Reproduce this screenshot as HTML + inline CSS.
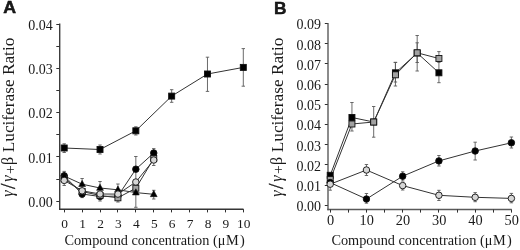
<!DOCTYPE html>
<html><head><meta charset="utf-8"><style>
html,body{margin:0;padding:0;background:#fff;width:520px;height:250px;overflow:hidden}
svg{display:block;will-change:transform}
text{fill:#1a1a1a}
</style></head><body>
<svg width="520" height="250" viewBox="0 0 520 250" font-family="Liberation Serif">
<line x1="59.7" y1="23.6" x2="59.7" y2="209.85" stroke="#3c3c3c" stroke-width="1.4"/>
<line x1="59" y1="209.25" x2="243.5" y2="209.25" stroke="#353535" stroke-width="1.4"/>
<line x1="56.3" y1="201.5" x2="59.4" y2="201.5" stroke="#303030" stroke-width="1.0"/>
<line x1="56.3" y1="179.5" x2="59.4" y2="179.5" stroke="#303030" stroke-width="1.0"/>
<line x1="56.3" y1="156.5" x2="59.4" y2="156.5" stroke="#303030" stroke-width="1.0"/>
<line x1="56.3" y1="134.5" x2="59.4" y2="134.5" stroke="#303030" stroke-width="1.0"/>
<line x1="56.3" y1="112.5" x2="59.4" y2="112.5" stroke="#303030" stroke-width="1.0"/>
<line x1="56.3" y1="90.5" x2="59.4" y2="90.5" stroke="#303030" stroke-width="1.0"/>
<line x1="56.3" y1="68.5" x2="59.4" y2="68.5" stroke="#303030" stroke-width="1.0"/>
<line x1="56.3" y1="46.5" x2="59.4" y2="46.5" stroke="#303030" stroke-width="1.0"/>
<line x1="56.3" y1="24.5" x2="59.4" y2="24.5" stroke="#303030" stroke-width="1.0"/>
<text x="52.8" y="206.9" font-size="14" text-anchor="end" font-family="Liberation Serif" >0.00</text>
<text x="52.8" y="162.65" font-size="14" text-anchor="end" font-family="Liberation Serif" >0.01</text>
<text x="52.8" y="118.4" font-size="14" text-anchor="end" font-family="Liberation Serif" >0.02</text>
<text x="52.8" y="74.15" font-size="14" text-anchor="end" font-family="Liberation Serif" >0.03</text>
<text x="52.8" y="29.9" font-size="14" text-anchor="end" font-family="Liberation Serif" >0.04</text>
<line x1="64.5" y1="209.2" x2="64.5" y2="212.4" stroke="#303030" stroke-width="1.0"/>
<text x="64.7" y="228.3" font-size="13.4" text-anchor="middle" font-family="Liberation Serif" >0</text>
<line x1="82.5" y1="209.2" x2="82.5" y2="212.4" stroke="#303030" stroke-width="1.0"/>
<text x="82.61" y="228.3" font-size="13.4" text-anchor="middle" font-family="Liberation Serif" >1</text>
<line x1="100.5" y1="209.2" x2="100.5" y2="212.4" stroke="#303030" stroke-width="1.0"/>
<text x="100.52" y="228.3" font-size="13.4" text-anchor="middle" font-family="Liberation Serif" >2</text>
<line x1="117.5" y1="209.2" x2="117.5" y2="212.4" stroke="#303030" stroke-width="1.0"/>
<text x="118.43" y="228.3" font-size="13.4" text-anchor="middle" font-family="Liberation Serif" >3</text>
<line x1="135.5" y1="209.2" x2="135.5" y2="212.4" stroke="#303030" stroke-width="1.0"/>
<text x="136.34" y="228.3" font-size="13.4" text-anchor="middle" font-family="Liberation Serif" >4</text>
<line x1="153.5" y1="209.2" x2="153.5" y2="212.4" stroke="#303030" stroke-width="1.0"/>
<text x="154.25" y="228.3" font-size="13.4" text-anchor="middle" font-family="Liberation Serif" >5</text>
<line x1="171.5" y1="209.2" x2="171.5" y2="212.4" stroke="#303030" stroke-width="1.0"/>
<text x="172.16" y="228.3" font-size="13.4" text-anchor="middle" font-family="Liberation Serif" >6</text>
<line x1="189.5" y1="209.2" x2="189.5" y2="212.4" stroke="#303030" stroke-width="1.0"/>
<text x="190.07" y="228.3" font-size="13.4" text-anchor="middle" font-family="Liberation Serif" >7</text>
<line x1="207.5" y1="209.2" x2="207.5" y2="212.4" stroke="#303030" stroke-width="1.0"/>
<text x="207.98" y="228.3" font-size="13.4" text-anchor="middle" font-family="Liberation Serif" >8</text>
<line x1="225.5" y1="209.2" x2="225.5" y2="212.4" stroke="#303030" stroke-width="1.0"/>
<text x="225.89" y="228.3" font-size="13.4" text-anchor="middle" font-family="Liberation Serif" >9</text>
<line x1="243.5" y1="209.2" x2="243.5" y2="212.4" stroke="#303030" stroke-width="1.0"/>
<text x="243.8" y="228.3" font-size="13.4" text-anchor="middle" font-family="Liberation Serif" >10</text>
<text x="64.4" y="245" font-size="14.3" text-anchor="start" font-family="Liberation Serif" >Compound concentration (&#956;<tspan dx="0.7">M</tspan><tspan dx="1.2">)</tspan></text>
<text x="0" y="0" font-size="17" text-anchor="start" font-family="Liberation Serif" transform="translate(14.2,196.5) rotate(-90)"><tspan x="-0.3" y="-1" font-style="italic" font-size="16">&#947;</tspan><tspan x="7.4" y="0.6" font-size="20" stroke="#1a1a1a" stroke-width="0.35">/</tspan><tspan x="14.8" y="-1" font-style="italic" font-size="16">&#947;</tspan><tspan x="22.6" y="0.3" font-size="15.5">+</tspan><tspan x="31.4" y="-1.2" font-size="16">&#946;</tspan><tspan x="44.2" y="0" font-size="17.3">Luciferase Ratio</tspan></text>
<text x="0" y="0" font-size="16.6" text-anchor="start" font-family="Liberation Sans" font-weight="bold" stroke="#000" stroke-width="0.45" transform="translate(3.2,13.4) scale(1.07,1)">A</text>
<line x1="328" y1="23" x2="328" y2="210.2" stroke="#5a5a5a" stroke-width="1.4"/>
<line x1="327.3" y1="209.5" x2="511.7" y2="209.5" stroke="#5a5a5a" stroke-width="1.4"/>
<line x1="324.8" y1="205.5" x2="327.8" y2="205.5" stroke="#303030" stroke-width="1.0"/>
<text x="321" y="211.2" font-size="14" text-anchor="end" font-family="Liberation Serif" >0.00</text>
<line x1="324.8" y1="185.5" x2="327.8" y2="185.5" stroke="#303030" stroke-width="1.0"/>
<text x="321" y="191.01" font-size="14" text-anchor="end" font-family="Liberation Serif" >0.01</text>
<line x1="324.8" y1="164.5" x2="327.8" y2="164.5" stroke="#303030" stroke-width="1.0"/>
<text x="321" y="170.82" font-size="14" text-anchor="end" font-family="Liberation Serif" >0.02</text>
<line x1="324.8" y1="144.5" x2="327.8" y2="144.5" stroke="#303030" stroke-width="1.0"/>
<text x="321" y="150.63" font-size="14" text-anchor="end" font-family="Liberation Serif" >0.03</text>
<line x1="324.8" y1="124.5" x2="327.8" y2="124.5" stroke="#303030" stroke-width="1.0"/>
<text x="321" y="130.44" font-size="14" text-anchor="end" font-family="Liberation Serif" >0.04</text>
<line x1="324.8" y1="104.5" x2="327.8" y2="104.5" stroke="#303030" stroke-width="1.0"/>
<text x="321" y="110.25" font-size="14" text-anchor="end" font-family="Liberation Serif" >0.05</text>
<line x1="324.8" y1="84.5" x2="327.8" y2="84.5" stroke="#303030" stroke-width="1.0"/>
<text x="321" y="90.06" font-size="14" text-anchor="end" font-family="Liberation Serif" >0.06</text>
<line x1="324.8" y1="63.5" x2="327.8" y2="63.5" stroke="#303030" stroke-width="1.0"/>
<text x="321" y="69.87" font-size="14" text-anchor="end" font-family="Liberation Serif" >0.07</text>
<line x1="324.8" y1="43.5" x2="327.8" y2="43.5" stroke="#303030" stroke-width="1.0"/>
<text x="321" y="49.68" font-size="14" text-anchor="end" font-family="Liberation Serif" >0.08</text>
<line x1="324.8" y1="23.5" x2="327.8" y2="23.5" stroke="#303030" stroke-width="1.0"/>
<text x="321" y="29.49" font-size="14" text-anchor="end" font-family="Liberation Serif" >0.09</text>
<line x1="330.5" y1="209.5" x2="330.5" y2="212.6" stroke="#303030" stroke-width="1.0"/>
<text x="330.5" y="225.1" font-size="14.3" text-anchor="middle" font-family="Liberation Serif" >0</text>
<line x1="348.5" y1="209.5" x2="348.5" y2="212.6" stroke="#303030" stroke-width="1.0"/>
<line x1="366.5" y1="209.5" x2="366.5" y2="212.6" stroke="#303030" stroke-width="1.0"/>
<text x="366.74" y="225.1" font-size="14.3" text-anchor="middle" font-family="Liberation Serif" >10</text>
<line x1="384.5" y1="209.5" x2="384.5" y2="212.6" stroke="#303030" stroke-width="1.0"/>
<line x1="402.5" y1="209.5" x2="402.5" y2="212.6" stroke="#303030" stroke-width="1.0"/>
<text x="402.98" y="225.1" font-size="14.3" text-anchor="middle" font-family="Liberation Serif" >20</text>
<line x1="420.5" y1="209.5" x2="420.5" y2="212.6" stroke="#303030" stroke-width="1.0"/>
<line x1="438.5" y1="209.5" x2="438.5" y2="212.6" stroke="#303030" stroke-width="1.0"/>
<text x="439.22" y="225.1" font-size="14.3" text-anchor="middle" font-family="Liberation Serif" >30</text>
<line x1="457.5" y1="209.5" x2="457.5" y2="212.6" stroke="#303030" stroke-width="1.0"/>
<line x1="475.5" y1="209.5" x2="475.5" y2="212.6" stroke="#303030" stroke-width="1.0"/>
<text x="475.46" y="225.1" font-size="14.3" text-anchor="middle" font-family="Liberation Serif" >40</text>
<line x1="493.5" y1="209.5" x2="493.5" y2="212.6" stroke="#303030" stroke-width="1.0"/>
<line x1="511.5" y1="209.5" x2="511.5" y2="212.6" stroke="#303030" stroke-width="1.0"/>
<text x="511.7" y="225.1" font-size="14.3" text-anchor="middle" font-family="Liberation Serif" >50</text>
<text x="331.4" y="245.4" font-size="14.3" text-anchor="start" font-family="Liberation Serif" >Compound concentration (&#956;<tspan dx="0.7">M</tspan><tspan dx="1.2">)</tspan></text>
<text x="0" y="0" font-size="17" text-anchor="start" font-family="Liberation Serif" transform="translate(282.8,196.5) rotate(-90)"><tspan x="-0.3" y="-1" font-style="italic" font-size="16">&#947;</tspan><tspan x="7.4" y="0.6" font-size="20" stroke="#1a1a1a" stroke-width="0.35">/</tspan><tspan x="14.8" y="-1" font-style="italic" font-size="16">&#947;</tspan><tspan x="22.6" y="0.3" font-size="15.5">+</tspan><tspan x="31.4" y="-1.2" font-size="16">&#946;</tspan><tspan x="44.2" y="0" font-size="17.3">Luciferase Ratio</tspan></text>
<text x="0" y="0" font-size="16.8" text-anchor="start" font-family="Liberation Sans" font-weight="bold" stroke="#000" stroke-width="0.45" transform="translate(273.9,14.3) scale(1.03,1)">B</text>
<line x1="64.2" y1="143.8" x2="64.2" y2="152.5" stroke="#5a5a5a" stroke-width="0.9"/>
<line x1="62.5" y1="143.8" x2="65.9" y2="143.8" stroke="#5a5a5a" stroke-width="0.9"/>
<line x1="62.5" y1="152.5" x2="65.9" y2="152.5" stroke="#5a5a5a" stroke-width="0.9"/>
<line x1="100.02" y1="145" x2="100.02" y2="154" stroke="#5a5a5a" stroke-width="0.9"/>
<line x1="98.32" y1="145" x2="101.72" y2="145" stroke="#5a5a5a" stroke-width="0.9"/>
<line x1="98.32" y1="154" x2="101.72" y2="154" stroke="#5a5a5a" stroke-width="0.9"/>
<line x1="135.84" y1="126.8" x2="135.84" y2="135" stroke="#5a5a5a" stroke-width="0.9"/>
<line x1="134.14" y1="126.8" x2="137.54" y2="126.8" stroke="#5a5a5a" stroke-width="0.9"/>
<line x1="134.14" y1="135" x2="137.54" y2="135" stroke="#5a5a5a" stroke-width="0.9"/>
<line x1="171.66" y1="89.7" x2="171.66" y2="102.3" stroke="#5a5a5a" stroke-width="0.9"/>
<line x1="169.96" y1="89.7" x2="173.36" y2="89.7" stroke="#5a5a5a" stroke-width="0.9"/>
<line x1="169.96" y1="102.3" x2="173.36" y2="102.3" stroke="#5a5a5a" stroke-width="0.9"/>
<line x1="207.48" y1="57.2" x2="207.48" y2="91.4" stroke="#5a5a5a" stroke-width="0.9"/>
<line x1="205.78" y1="57.2" x2="209.18" y2="57.2" stroke="#5a5a5a" stroke-width="0.9"/>
<line x1="205.78" y1="91.4" x2="209.18" y2="91.4" stroke="#5a5a5a" stroke-width="0.9"/>
<line x1="243.3" y1="48.6" x2="243.3" y2="86.2" stroke="#5a5a5a" stroke-width="0.9"/>
<line x1="241.6" y1="48.6" x2="245" y2="48.6" stroke="#5a5a5a" stroke-width="0.9"/>
<line x1="241.6" y1="86.2" x2="245" y2="86.2" stroke="#5a5a5a" stroke-width="0.9"/>
<line x1="64.2" y1="171.4" x2="64.2" y2="185.5" stroke="#5a5a5a" stroke-width="0.9"/>
<line x1="62.5" y1="171.4" x2="65.9" y2="171.4" stroke="#5a5a5a" stroke-width="0.9"/>
<line x1="62.5" y1="185.5" x2="65.9" y2="185.5" stroke="#5a5a5a" stroke-width="0.9"/>
<line x1="82.11" y1="178.5" x2="82.11" y2="197.6" stroke="#5a5a5a" stroke-width="0.9"/>
<line x1="80.41" y1="178.5" x2="83.81" y2="178.5" stroke="#5a5a5a" stroke-width="0.9"/>
<line x1="80.41" y1="197.6" x2="83.81" y2="197.6" stroke="#5a5a5a" stroke-width="0.9"/>
<line x1="100.02" y1="181.5" x2="100.02" y2="201" stroke="#5a5a5a" stroke-width="0.9"/>
<line x1="98.32" y1="181.5" x2="101.72" y2="181.5" stroke="#5a5a5a" stroke-width="0.9"/>
<line x1="98.32" y1="201" x2="101.72" y2="201" stroke="#5a5a5a" stroke-width="0.9"/>
<line x1="117.93" y1="184" x2="117.93" y2="202" stroke="#5a5a5a" stroke-width="0.9"/>
<line x1="116.23" y1="184" x2="119.63" y2="184" stroke="#5a5a5a" stroke-width="0.9"/>
<line x1="116.23" y1="202" x2="119.63" y2="202" stroke="#5a5a5a" stroke-width="0.9"/>
<line x1="135.84" y1="156.5" x2="135.84" y2="207.3" stroke="#5a5a5a" stroke-width="0.9"/>
<line x1="134.14" y1="156.5" x2="137.54" y2="156.5" stroke="#5a5a5a" stroke-width="0.9"/>
<line x1="134.14" y1="207.3" x2="137.54" y2="207.3" stroke="#5a5a5a" stroke-width="0.9"/>
<line x1="153.75" y1="148.6" x2="153.75" y2="165.5" stroke="#5a5a5a" stroke-width="0.9"/>
<line x1="152.05" y1="148.6" x2="155.45" y2="148.6" stroke="#5a5a5a" stroke-width="0.9"/>
<line x1="152.05" y1="165.5" x2="155.45" y2="165.5" stroke="#5a5a5a" stroke-width="0.9"/>
<line x1="153.75" y1="190.3" x2="153.75" y2="199" stroke="#5a5a5a" stroke-width="0.9"/>
<line x1="152.05" y1="190.3" x2="155.45" y2="190.3" stroke="#5a5a5a" stroke-width="0.9"/>
<line x1="152.05" y1="199" x2="155.45" y2="199" stroke="#5a5a5a" stroke-width="0.9"/>
<polyline points="64.2,176 82.11,184.2 100.02,188 117.93,189.8 135.84,192.6 153.75,194.3" fill="none" stroke="#333" stroke-width="1.0"/>
<polyline points="64.2,175.8 82.11,194 100.02,196.5 117.93,196 135.84,169.2 153.75,153" fill="none" stroke="#333" stroke-width="1.0"/>
<polyline points="64.2,178.5 82.11,191.5 100.02,195.5 117.93,197.8 135.84,188.2 153.75,158.5" fill="none" stroke="#333" stroke-width="1.0"/>
<polyline points="64.2,180.4 82.11,190.8 100.02,194 117.93,194.1 135.84,182 153.75,160" fill="none" stroke="#333" stroke-width="1.0"/>
<polyline points="64.2,148 100.02,149.5 135.84,130.8 171.66,96.1 207.48,74 243.3,67.4" fill="none" stroke="#333" stroke-width="1.0"/>
<rect x="61.2" y="145" width="6" height="6" fill="#000" stroke="#111" stroke-width="0.9"/>
<rect x="97.02" y="146.5" width="6" height="6" fill="#000" stroke="#111" stroke-width="0.9"/>
<rect x="132.84" y="127.8" width="6" height="6" fill="#000" stroke="#111" stroke-width="0.9"/>
<rect x="168.66" y="93.1" width="6" height="6" fill="#000" stroke="#111" stroke-width="0.9"/>
<rect x="204.48" y="71" width="6" height="6" fill="#000" stroke="#111" stroke-width="0.9"/>
<rect x="240.3" y="64.4" width="6" height="6" fill="#000" stroke="#111" stroke-width="0.9"/>
<circle cx="64.2" cy="175.8" r="3.25" fill="#000" stroke="#111" stroke-width="0.9"/>
<circle cx="82.11" cy="194" r="3.25" fill="#000" stroke="#111" stroke-width="0.9"/>
<circle cx="100.02" cy="196.5" r="3.25" fill="#000" stroke="#111" stroke-width="0.9"/>
<circle cx="117.93" cy="196" r="3.25" fill="#000" stroke="#111" stroke-width="0.9"/>
<circle cx="135.84" cy="169.2" r="3.25" fill="#000" stroke="#111" stroke-width="0.9"/>
<circle cx="153.75" cy="153" r="3.25" fill="#000" stroke="#111" stroke-width="0.9"/>
<rect x="61.2" y="175.5" width="6" height="6" fill="#a2a2a2" stroke="#111" stroke-width="0.9"/>
<rect x="79.11" y="188.5" width="6" height="6" fill="#a2a2a2" stroke="#111" stroke-width="0.9"/>
<rect x="97.02" y="192.5" width="6" height="6" fill="#a2a2a2" stroke="#111" stroke-width="0.9"/>
<rect x="114.93" y="194.8" width="6" height="6" fill="#a2a2a2" stroke="#111" stroke-width="0.9"/>
<rect x="132.84" y="185.2" width="6" height="6" fill="#a2a2a2" stroke="#111" stroke-width="0.9"/>
<rect x="150.75" y="155.5" width="6" height="6" fill="#a2a2a2" stroke="#111" stroke-width="0.9"/>
<path d="M64.2 172.21 L67.6 178.33 L60.8 178.33 Z" fill="#000" stroke="#111" stroke-width="0.6"/>
<path d="M82.11 180.41 L85.51 186.53 L78.71 186.53 Z" fill="#000" stroke="#111" stroke-width="0.6"/>
<path d="M100.02 184.21 L103.42 190.33 L96.62 190.33 Z" fill="#000" stroke="#111" stroke-width="0.6"/>
<path d="M117.93 186.01 L121.33 192.13 L114.53 192.13 Z" fill="#000" stroke="#111" stroke-width="0.6"/>
<path d="M135.84 188.81 L139.24 194.93 L132.44 194.93 Z" fill="#000" stroke="#111" stroke-width="0.6"/>
<path d="M153.75 190.51 L157.15 196.63 L150.35 196.63 Z" fill="#000" stroke="#111" stroke-width="0.6"/>
<circle cx="64.2" cy="180.4" r="3.25" fill="#d6d6d6" stroke="#111" stroke-width="0.9"/>
<circle cx="82.11" cy="190.8" r="3.25" fill="#d6d6d6" stroke="#111" stroke-width="0.9"/>
<circle cx="100.02" cy="194" r="3.25" fill="#d6d6d6" stroke="#111" stroke-width="0.9"/>
<circle cx="117.93" cy="194.1" r="3.25" fill="#d6d6d6" stroke="#111" stroke-width="0.9"/>
<circle cx="135.84" cy="182" r="3.25" fill="#d6d6d6" stroke="#111" stroke-width="0.9"/>
<circle cx="153.75" cy="160" r="3.25" fill="#d6d6d6" stroke="#111" stroke-width="0.9"/>
<line x1="351.94" y1="102.5" x2="351.94" y2="131" stroke="#5a5a5a" stroke-width="0.9"/>
<line x1="350.24" y1="102.5" x2="353.64" y2="102.5" stroke="#5a5a5a" stroke-width="0.9"/>
<line x1="350.24" y1="131" x2="353.64" y2="131" stroke="#5a5a5a" stroke-width="0.9"/>
<line x1="395.43" y1="62.4" x2="395.43" y2="82" stroke="#5a5a5a" stroke-width="0.9"/>
<line x1="393.73" y1="62.4" x2="397.13" y2="62.4" stroke="#5a5a5a" stroke-width="0.9"/>
<line x1="393.73" y1="82" x2="397.13" y2="82" stroke="#5a5a5a" stroke-width="0.9"/>
<line x1="417.18" y1="42.8" x2="417.18" y2="71" stroke="#5a5a5a" stroke-width="0.9"/>
<line x1="415.48" y1="42.8" x2="418.88" y2="42.8" stroke="#5a5a5a" stroke-width="0.9"/>
<line x1="415.48" y1="71" x2="418.88" y2="71" stroke="#5a5a5a" stroke-width="0.9"/>
<line x1="438.92" y1="61.5" x2="438.92" y2="82.7" stroke="#5a5a5a" stroke-width="0.9"/>
<line x1="437.22" y1="61.5" x2="440.62" y2="61.5" stroke="#5a5a5a" stroke-width="0.9"/>
<line x1="437.22" y1="82.7" x2="440.62" y2="82.7" stroke="#5a5a5a" stroke-width="0.9"/>
<line x1="373.69" y1="106.5" x2="373.69" y2="137.2" stroke="#5a5a5a" stroke-width="0.9"/>
<line x1="371.99" y1="106.5" x2="375.39" y2="106.5" stroke="#5a5a5a" stroke-width="0.9"/>
<line x1="371.99" y1="137.2" x2="375.39" y2="137.2" stroke="#5a5a5a" stroke-width="0.9"/>
<line x1="395.43" y1="62.4" x2="395.43" y2="86" stroke="#5a5a5a" stroke-width="0.9"/>
<line x1="393.73" y1="62.4" x2="397.13" y2="62.4" stroke="#5a5a5a" stroke-width="0.9"/>
<line x1="393.73" y1="86" x2="397.13" y2="86" stroke="#5a5a5a" stroke-width="0.9"/>
<line x1="417.18" y1="35.5" x2="417.18" y2="62.5" stroke="#5a5a5a" stroke-width="0.9"/>
<line x1="415.48" y1="35.5" x2="418.88" y2="35.5" stroke="#5a5a5a" stroke-width="0.9"/>
<line x1="415.48" y1="62.5" x2="418.88" y2="62.5" stroke="#5a5a5a" stroke-width="0.9"/>
<line x1="438.92" y1="51.6" x2="438.92" y2="62.3" stroke="#5a5a5a" stroke-width="0.9"/>
<line x1="437.22" y1="51.6" x2="440.62" y2="51.6" stroke="#5a5a5a" stroke-width="0.9"/>
<line x1="437.22" y1="62.3" x2="440.62" y2="62.3" stroke="#5a5a5a" stroke-width="0.9"/>
<line x1="330.2" y1="184.2" x2="330.2" y2="190.2" stroke="#5a5a5a" stroke-width="0.9"/>
<line x1="328.5" y1="184.2" x2="331.9" y2="184.2" stroke="#5a5a5a" stroke-width="0.9"/>
<line x1="328.5" y1="190.2" x2="331.9" y2="190.2" stroke="#5a5a5a" stroke-width="0.9"/>
<line x1="366.44" y1="164.5" x2="366.44" y2="175.5" stroke="#5a5a5a" stroke-width="0.9"/>
<line x1="364.74" y1="164.5" x2="368.14" y2="164.5" stroke="#5a5a5a" stroke-width="0.9"/>
<line x1="364.74" y1="175.5" x2="368.14" y2="175.5" stroke="#5a5a5a" stroke-width="0.9"/>
<line x1="402.68" y1="185.6" x2="402.68" y2="190" stroke="#5a5a5a" stroke-width="0.9"/>
<line x1="400.98" y1="185.6" x2="404.38" y2="185.6" stroke="#5a5a5a" stroke-width="0.9"/>
<line x1="400.98" y1="190" x2="404.38" y2="190" stroke="#5a5a5a" stroke-width="0.9"/>
<line x1="438.92" y1="190.3" x2="438.92" y2="200.5" stroke="#5a5a5a" stroke-width="0.9"/>
<line x1="437.22" y1="190.3" x2="440.62" y2="190.3" stroke="#5a5a5a" stroke-width="0.9"/>
<line x1="437.22" y1="200.5" x2="440.62" y2="200.5" stroke="#5a5a5a" stroke-width="0.9"/>
<line x1="475.16" y1="192.6" x2="475.16" y2="201.7" stroke="#5a5a5a" stroke-width="0.9"/>
<line x1="473.46" y1="192.6" x2="476.86" y2="192.6" stroke="#5a5a5a" stroke-width="0.9"/>
<line x1="473.46" y1="201.7" x2="476.86" y2="201.7" stroke="#5a5a5a" stroke-width="0.9"/>
<line x1="511.4" y1="193.4" x2="511.4" y2="202.8" stroke="#5a5a5a" stroke-width="0.9"/>
<line x1="509.7" y1="193.4" x2="513.1" y2="193.4" stroke="#5a5a5a" stroke-width="0.9"/>
<line x1="509.7" y1="202.8" x2="513.1" y2="202.8" stroke="#5a5a5a" stroke-width="0.9"/>
<line x1="366.44" y1="193.5" x2="366.44" y2="203.2" stroke="#5a5a5a" stroke-width="0.9"/>
<line x1="364.74" y1="193.5" x2="368.14" y2="193.5" stroke="#5a5a5a" stroke-width="0.9"/>
<line x1="364.74" y1="203.2" x2="368.14" y2="203.2" stroke="#5a5a5a" stroke-width="0.9"/>
<line x1="402.68" y1="171.8" x2="402.68" y2="181" stroke="#5a5a5a" stroke-width="0.9"/>
<line x1="400.98" y1="171.8" x2="404.38" y2="171.8" stroke="#5a5a5a" stroke-width="0.9"/>
<line x1="400.98" y1="181" x2="404.38" y2="181" stroke="#5a5a5a" stroke-width="0.9"/>
<line x1="438.92" y1="155.5" x2="438.92" y2="166" stroke="#5a5a5a" stroke-width="0.9"/>
<line x1="437.22" y1="155.5" x2="440.62" y2="155.5" stroke="#5a5a5a" stroke-width="0.9"/>
<line x1="437.22" y1="166" x2="440.62" y2="166" stroke="#5a5a5a" stroke-width="0.9"/>
<line x1="475.16" y1="142.2" x2="475.16" y2="160" stroke="#5a5a5a" stroke-width="0.9"/>
<line x1="473.46" y1="142.2" x2="476.86" y2="142.2" stroke="#5a5a5a" stroke-width="0.9"/>
<line x1="473.46" y1="160" x2="476.86" y2="160" stroke="#5a5a5a" stroke-width="0.9"/>
<line x1="511.4" y1="137" x2="511.4" y2="148" stroke="#5a5a5a" stroke-width="0.9"/>
<line x1="509.7" y1="137" x2="513.1" y2="137" stroke="#5a5a5a" stroke-width="0.9"/>
<line x1="509.7" y1="148" x2="513.1" y2="148" stroke="#5a5a5a" stroke-width="0.9"/>
<polyline points="330.2,182.6 366.44,199 402.68,176.2 438.92,160.9 475.16,151 511.4,142.8" fill="none" stroke="#333" stroke-width="1.0"/>
<polyline points="330.2,184.2 366.44,170 402.68,185.6 438.92,195.3 475.16,197.3 511.4,198.4" fill="none" stroke="#333" stroke-width="1.0"/>
<polyline points="330.2,179.6 351.94,124 373.69,122 395.43,74.8 417.18,52.8 438.92,58.5" fill="none" stroke="#333" stroke-width="1.0"/>
<polyline points="330.2,175.3 351.94,117.5 373.69,122 395.43,72.8 417.18,53 438.92,72.8" fill="none" stroke="#333" stroke-width="1.0"/>
<rect x="327.2" y="172.3" width="6" height="6" fill="#000" stroke="#111" stroke-width="0.9"/>
<rect x="348.94" y="114.5" width="6" height="6" fill="#000" stroke="#111" stroke-width="0.9"/>
<rect x="370.69" y="119" width="6" height="6" fill="#000" stroke="#111" stroke-width="0.9"/>
<rect x="392.43" y="69.8" width="6" height="6" fill="#000" stroke="#111" stroke-width="0.9"/>
<rect x="414.18" y="50" width="6" height="6" fill="#000" stroke="#111" stroke-width="0.9"/>
<rect x="435.92" y="69.8" width="6" height="6" fill="#000" stroke="#111" stroke-width="0.9"/>
<rect x="327.2" y="176.6" width="6" height="6" fill="#a2a2a2" stroke="#111" stroke-width="0.9"/>
<rect x="348.94" y="121" width="6" height="6" fill="#a2a2a2" stroke="#111" stroke-width="0.9"/>
<rect x="370.69" y="119" width="6" height="6" fill="#a2a2a2" stroke="#111" stroke-width="0.9"/>
<rect x="392.43" y="71.8" width="6" height="6" fill="#a2a2a2" stroke="#111" stroke-width="0.9"/>
<rect x="414.18" y="49.8" width="6" height="6" fill="#a2a2a2" stroke="#111" stroke-width="0.9"/>
<rect x="435.92" y="55.5" width="6" height="6" fill="#a2a2a2" stroke="#111" stroke-width="0.9"/>
<circle cx="330.2" cy="182.6" r="3.25" fill="#000" stroke="#111" stroke-width="0.9"/>
<circle cx="366.44" cy="199" r="3.25" fill="#000" stroke="#111" stroke-width="0.9"/>
<circle cx="402.68" cy="176.2" r="3.25" fill="#000" stroke="#111" stroke-width="0.9"/>
<circle cx="438.92" cy="160.9" r="3.25" fill="#000" stroke="#111" stroke-width="0.9"/>
<circle cx="475.16" cy="151" r="3.25" fill="#000" stroke="#111" stroke-width="0.9"/>
<circle cx="511.4" cy="142.8" r="3.25" fill="#000" stroke="#111" stroke-width="0.9"/>
<circle cx="330.2" cy="184.2" r="3.25" fill="#d6d6d6" stroke="#111" stroke-width="0.9"/>
<circle cx="366.44" cy="170" r="3.25" fill="#d6d6d6" stroke="#111" stroke-width="0.9"/>
<circle cx="402.68" cy="185.6" r="3.25" fill="#d6d6d6" stroke="#111" stroke-width="0.9"/>
<circle cx="438.92" cy="195.3" r="3.25" fill="#d6d6d6" stroke="#111" stroke-width="0.9"/>
<circle cx="475.16" cy="197.3" r="3.25" fill="#d6d6d6" stroke="#111" stroke-width="0.9"/>
<circle cx="511.4" cy="198.4" r="3.25" fill="#d6d6d6" stroke="#111" stroke-width="0.9"/>
</svg>
</body></html>
